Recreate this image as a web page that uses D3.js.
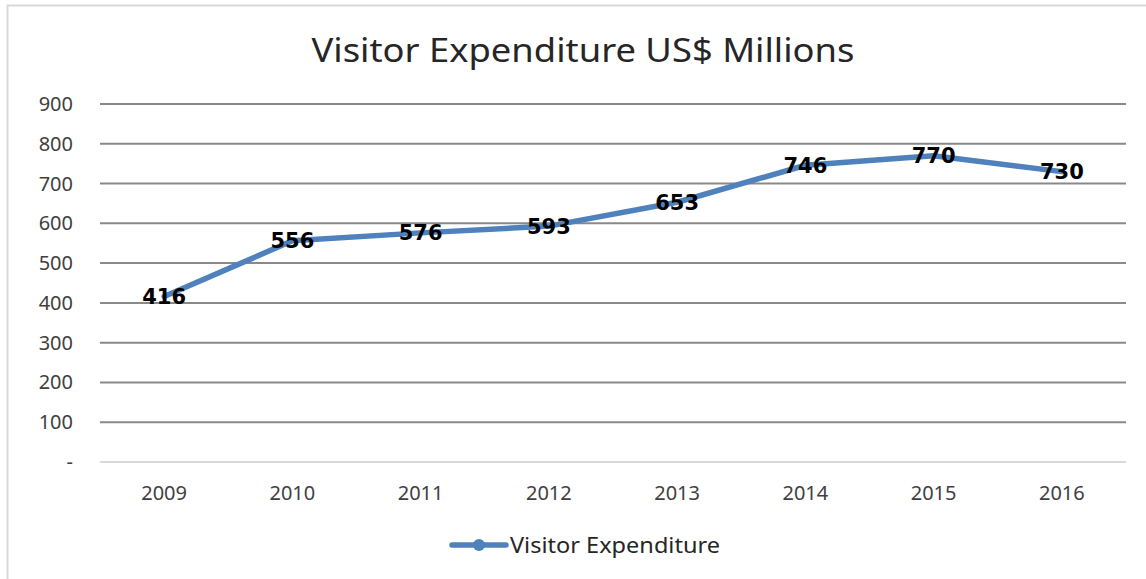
<!DOCTYPE html>
<html>
<head>
<meta charset="utf-8">
<script src="https://cdn.jsdelivr.net/npm/d3@7"></script>
<style>
  html, body { margin: 0; padding: 0; background: #fff; }
  svg { display: block; font-family: "Noto Sans", "DejaVu Sans", sans-serif; }
</style>
</head>
<body>
<div id="chart"></div>
<script>
const years = ['2009', '2010', '2011', '2012', '2013', '2014', '2015', '2016'];
const expenditure = [416, 556, 576, 593, 653, 746, 770, 730];
const yTicks = [0, 100, 200, 300, 400, 500, 600, 700, 800, 900];
const seriesName = 'Visitor Expenditure';
const chartTitle = 'Visitor Expenditure US$ Millions';

const W = 1146, H = 579;
const margin = { top: 104, right: 20, bottom: 117, left: 100 };
const width = 1126 - margin.left;
const height = 462 - margin.top;

const svg = d3.select('#chart')
  .append('svg')
  .attr('width', W)
  .attr('height', H);

// outer frame
svg.append('rect')
  .attr('x', 7.5)
  .attr('y', 5.5)
  .attr('width', W + 10)
  .attr('height', H + 10)
  .attr('fill', '#fff')
  .attr('stroke', '#d9d9d9')
  .attr('stroke-width', 2);

svg.append('text')
  .attr('x', 583)
  .attr('y', 62)
  .attr('text-anchor', 'middle')
  .attr('fill', '#262626')
  .attr('textLength', 543)
  .attr('lengthAdjust', 'spacingAndGlyphs')
  .style('font-size', '32px')
  .text(chartTitle);

const g = svg.append('g')
  .attr('transform', `translate(${margin.left},${margin.top})`);

const x = d3.scaleBand()
  .domain(years)
  .range([0, width]);

const y = d3.scaleLinear()
  .domain([0, 900])
  .range([height, 0]);

// grid
g.append('g')
  .selectAll('line')
  .data(yTicks)
  .enter()
  .append('line')
  .attr('x1', 0)
  .attr('x2', width)
  .attr('y1', d => y(d))
  .attr('y2', d => y(d))
  .attr('stroke', d => d === 0 ? '#d9d9d9' : '#898989')
  .attr('stroke-width', 2);

// Y axis labels
g.append('g')
  .selectAll('text')
  .data(yTicks)
  .enter()
  .append('text')
  .attr('x', -27)
  .attr('y', d => y(d))
  .attr('dy', '0.35em')
  .attr('text-anchor', 'end')
  .attr('fill', '#404040')
  .style('font-size', '20px')
  .text(d => d === 0 ? '-' : d);

// X axis labels
g.append('g')
  .selectAll('text')
  .data(years)
  .enter()
  .append('text')
  .attr('x', d => x(d) + x.bandwidth() / 2)
  .attr('y', height + 38)
  .attr('text-anchor', 'middle')
  .attr('fill', '#404040')
  .style('font-size', '20px')
  .text(d => d);

const points = years.map((yr, i) => ({ year: yr, value: expenditure[i] }));

const line = d3.line()
  .x(d => x(d.year) + x.bandwidth() / 2)
  .y(d => y(d.value));

g.append('path')
  .datum(points)
  .attr('fill', 'none')
  .attr('stroke', '#4f81bd')
  .attr('stroke-width', 5.5)
  .attr('stroke-linejoin', 'round')
  .attr('stroke-linecap', 'round')
  .attr('d', line);

g.append('g')
  .selectAll('text')
  .data(points)
  .enter()
  .append('text')
  .attr('x', d => x(d.year) + x.bandwidth() / 2)
  .attr('y', d => y(d.value))
  .attr('dy', '0.36em')
  .attr('text-anchor', 'middle')
  .attr('fill', '#000')
  .style('font-family', '"DejaVu Sans", sans-serif')
  .style('font-size', '21px')
  .style('font-weight', 'bold')
  .text(d => d.value);

// legend
const legend = svg.append('g')
  .attr('transform', 'translate(452,545)');

legend.append('line')
  .attr('x1', 0)
  .attr('x2', 54)
  .attr('stroke', '#4f81bd')
  .attr('stroke-width', 5.5)
  .attr('stroke-linecap', 'round');

legend.append('circle')
  .attr('cx', 27)
  .attr('r', 6)
  .attr('fill', '#4f81bd');

legend.append('text')
  .attr('x', 58)
  .attr('dy', '0.35em')
  .attr('fill', '#262626')
  .attr('textLength', 210)
  .attr('lengthAdjust', 'spacingAndGlyphs')
  .style('font-size', '22px')
  .text(seriesName);
</script>
</body>
</html>
